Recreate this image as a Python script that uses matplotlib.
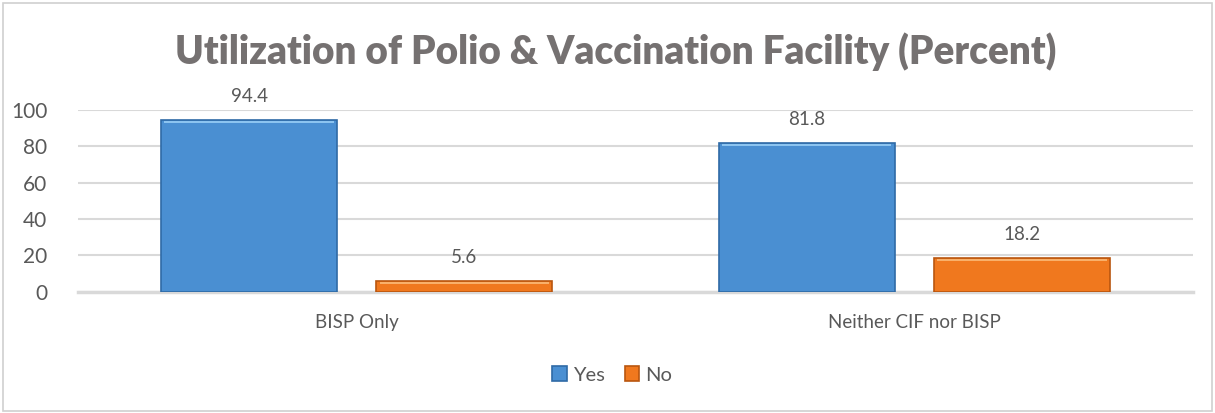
import numpy as np
import matplotlib.pyplot as plt
from matplotlib.patches import Rectangle

categories = ['BISP Only', 'Neither CIF nor BISP']
yes_vals = [94.4, 81.8]
no_vals = [5.6, 18.2]
series_names = ['Yes', 'No']

plt.rcParams['font.family'] = ['Lato', 'DejaVu Sans']
text_col = '#595959'
grid_col = '#d9d9d9'

fig = plt.figure(figsize=(12.15, 4.13), dpi=100)
ax = fig.add_axes([78/1215, 1 - 291.5/413, (1193-78)/1215, (291.5-110)/413])

x = np.arange(len(categories))
w = 0.316
off = 0.193
b1 = ax.bar(x - off, yes_vals, w, color='#4a8fd2', edgecolor='#2f6aa6', linewidth=1.2,
            label=series_names[0], zorder=3)
b2 = ax.bar(x + off, no_vals, w, color='#f0781e', edgecolor='#b9560f', linewidth=1.2,
            label=series_names[1], zorder=3)

# bevel-like highlight on top of each bar
for bars, hl in [(b1, '#8cc4f0'), (b2, '#f9b06a')]:
    for r in bars:
        ax.add_patch(Rectangle((r.get_x() + 0.006, r.get_height() - 1.6), r.get_width() - 0.012, 1.2,
                               color=hl, zorder=4, linewidth=0))

for bars, vals in [(b1, yes_vals), (b2, no_vals)]:
    for r, v in zip(bars, vals):
        ax.annotate(f'{v}', (r.get_x() + r.get_width() / 2, v), xytext=(0, 11),
                    textcoords='offset points', ha='center', va='bottom',
                    fontsize=13.5, color=text_col)

ax.set_xlim(-0.5, 1.5)
ax.set_ylim(0, 100)
ax.set_yticks([0, 20, 40, 60, 80, 100])
ax.set_xticks(x)
ax.set_xticklabels(categories)
ax.tick_params(axis='both', length=0, labelsize=13.5, labelcolor=text_col)
ax.tick_params(axis='y', labelsize=15, pad=22)
ax.tick_params(axis='x', pad=16)
ax.grid(axis='y', color=grid_col, linewidth=1.5, zorder=0)
for s in ['top', 'right', 'left']:
    ax.spines[s].set_visible(False)
ax.spines['bottom'].set_color(grid_col)
ax.spines['bottom'].set_linewidth(2.5)

fig.text(616/1215, 1 - 52/413, 'Utilization of Polio & Vaccination Facility (Percent)',
         ha='center', va='center', fontsize=27.8, fontweight='heavy', color='#757171')

leg = fig.legend(handles=[b1, b2], loc='center', bbox_to_anchor=(612/1215, 1 - 375/413),
                 ncol=2, frameon=False, fontsize=14.5, handlelength=0.7, handleheight=0.7,
                 handletextpad=0.3, columnspacing=1.0)
for t in leg.get_texts():
    t.set_color(text_col)

fig.patches.append(Rectangle((3/1215, 2/413), 1209/1215, 408/413, transform=fig.transFigure,
                             fill=False, edgecolor='#d0d0d0', linewidth=1.2))

fig.savefig('out.png', dpi=100)
